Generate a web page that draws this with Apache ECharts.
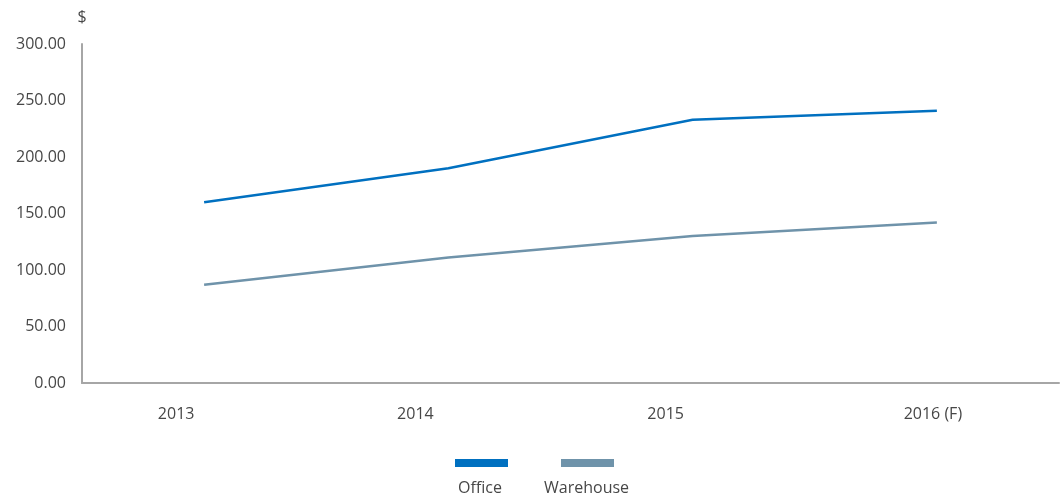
<!DOCTYPE html>
<html>
<head>
<meta charset="utf-8">
<script src="https://cdn.jsdelivr.net/npm/echarts@6/dist/echarts.min.js"></script>
<style>
  html, body { margin: 0; padding: 0; background: #ffffff; }
  #chart { width: 1064px; height: 499px; }
</style>
</head>
<body>
<div id="chart"></div>
<script>
// Average rent per category, by year
const years = ['2013', '2014', '2015', '2016 (F)'];
const officeValues = [160, 190, 233, 241];
const warehouseValues = [87, 111, 130, 142];
const seriesNames = ['Office', 'Warehouse'];
const seriesColors = ['#0070C0', '#6F93AA'];
const yTicks = { min: 0, max: 300, interval: 50 };

// horizontal nudge (px, leftwards) of each year label under the axis
const labelShift = [28, 33, 27, 4];

const fontFamily = '"Open Sans", "Noto Sans", sans-serif';
const textColor = '#474747';
const axisColor = '#A6A6A6';
const fontSize = 16;

const chart = echarts.init(document.getElementById('chart'), null, { renderer: 'canvas' });

const rich = {};
labelShift.forEach((s, i) => {
  rich['c' + i] = { padding: [0, s * 2, 0, 0], fontSize: fontSize, color: textColor, fontFamily: fontFamily };
});

chart.setOption({
  animation: false,
  backgroundColor: '#ffffff',
  grid: { left: 82, right: 5, top: 44, bottom: 116, containLabel: false },
  xAxis: {
    type: 'category',
    data: years,
    boundaryGap: true,
    axisLine: { show: true, lineStyle: { color: axisColor, width: 2 } },
    axisTick: { show: false },
    splitLine: { show: false },
    axisLabel: {
      margin: 23,
      formatter: (v, i) => '{c' + i + '|' + v + '}',
      rich: rich
    }
  },
  yAxis: {
    type: 'value',
    min: yTicks.min,
    max: yTicks.max,
    interval: yTicks.interval,
    name: '$',
    nameLocation: 'end',
    nameGap: 19,
    nameTextStyle: { color: textColor, fontSize: fontSize, fontFamily: fontFamily, align: 'center' },
    axisLine: { show: true, lineStyle: { color: axisColor, width: 2 } },
    axisTick: { show: false },
    splitLine: { show: false },
    axisLabel: {
      margin: 16,
      color: textColor,
      fontSize: fontSize,
      fontFamily: fontFamily,
      formatter: v => v.toFixed(2)
    }
  },
  legend: [0, 1].map(i => ({
    data: [seriesNames[i]],
    left: i === 0 ? 455 : 561,
    top: 459,
    padding: 0,
    itemWidth: 53,
    itemHeight: 8,
    itemGap: 0,
    icon: 'rect',
    formatter: () => '',
    textStyle: { fontSize: 1 },
    selectedMode: false
  })),
  graphic: [
    { type: 'text', left: 481 - 23, top: 480, style: { text: seriesNames[0], fill: textColor, font: fontSize + 'px ' + fontFamily } },
    { type: 'text', left: 587 - 43, top: 480, style: { text: seriesNames[1], fill: textColor, font: fontSize + 'px ' + fontFamily } }
  ],
  series: [
    {
      name: seriesNames[0],
      type: 'line',
      data: officeValues,
      symbol: 'none',
      lineStyle: { color: seriesColors[0], width: 2.5 },
      itemStyle: { color: seriesColors[0] }
    },
    {
      name: seriesNames[1],
      type: 'line',
      data: warehouseValues,
      symbol: 'none',
      lineStyle: { color: seriesColors[1], width: 2.5 },
      itemStyle: { color: seriesColors[1] }
    }
  ]
});
</script>
</body>
</html>
